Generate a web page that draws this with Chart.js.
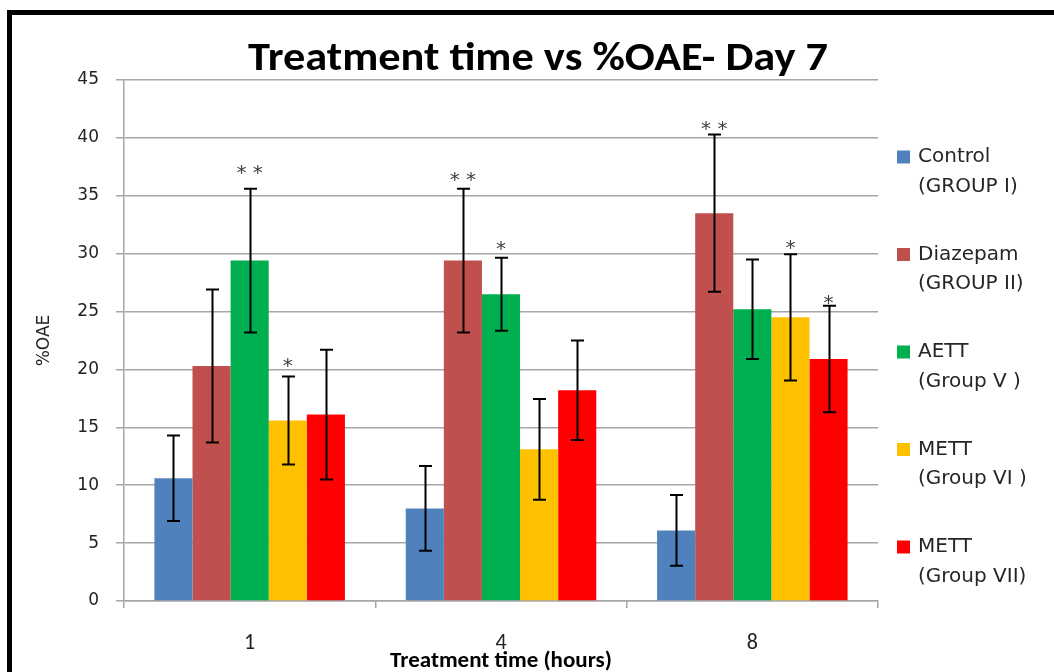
<!DOCTYPE html>
<html>
<head>
<meta charset="utf-8">
<script src="https://cdn.jsdelivr.net/npm/chart.js@4.4.1/dist/chart.umd.min.js"></script>
<style>
  html, body { margin: 0; padding: 0; background: #fff; }
  #wrap { width: 1054px; height: 672px; position: relative; }
</style>
</head>
<body>
<div id="wrap"><canvas id="c" width="1054" height="672"></canvas></div>
<script>
// ---- data ----
const chartTitle = 'Treatment time vs %OAE- Day 7';
const xTitle = 'Treatment time (hours)';
const yTitle = '%OAE';
const categories = ['1', '4', '8'];
const yTicks = [0, 5, 10, 15, 20, 25, 30, 35, 40, 45];

const seriesNames  = ['Control', 'Diazepam', 'AETT', 'METT', 'METT'];
const seriesGroups = ['(GROUP I)', '(GROUP II)', '(Group V )', '(Group VI )', '(Group VII)'];
const seriesColors = ['#4F81BD', '#C0504D', '#00B050', '#FFC000', '#FF0000'];

const controlVals  = [10.6, 8.0, 6.1];
const diazepamVals = [20.3, 29.4, 33.5];
const aettVals     = [29.4, 26.5, 25.2];
const mett6Vals    = [15.6, 13.1, 24.5];
const mett7Vals    = [16.1, 18.2, 20.9];

const controlErr  = [3.7, 3.65, 3.05];
const diazepamErr = [6.6, 6.2, 6.8];
const aettErr     = [6.2, 3.15, 4.3];
const mett6Err    = [3.8, 4.35, 5.45];
const mett7Err    = [5.6, 4.3, 4.6];

// significance marks and the value level at which each is written
const controlSig  = ['', '', ''];
const diazepamSig = ['', '* *', '* *'];
const aettSig     = ['* *', '*', ''];
const mett6Sig    = ['*', '', '*'];
const mett7Sig    = ['', '', '*'];
const controlSigY  = [null, null, null];
const diazepamSigY = [null, 36.8, 41.2];
const aettSigY     = [37.4, 30.8, null];
const mett6SigY    = [20.7, null, 30.9];
const mett7SigY    = [null, null, 26.2];

const allVals = [controlVals, diazepamVals, aettVals, mett6Vals, mett7Vals];
const allErr  = [controlErr, diazepamErr, aettErr, mett6Err, mett7Err];
const allSig  = [controlSig, diazepamSig, aettSig, mett6Sig, mett7Sig];
const allSigY = [controlSigY, diazepamSigY, aettSigY, mett6SigY, mett7SigY];

const datasets = allVals.map((v, i) => ({
  label: seriesNames[i] + ' ' + seriesGroups[i],
  data: v,
  backgroundColor: seriesColors[i],
  borderWidth: 0,
  categoryPercentage: 0.758,
  barPercentage: 1.0,
  errors: allErr[i],
  sig: allSig[i],
  sigY: allSigY[i]
}));

const frame = {
  id: 'frame',
  beforeDraw(chart) {
    const ctx = chart.ctx;
    ctx.save();
    ctx.fillStyle = '#fff';
    ctx.fillRect(0, 0, chart.width, chart.height);
    ctx.strokeStyle = '#000';
    ctx.lineWidth = 5;
    ctx.strokeRect(9.5, 12.5, 1200, 800);
    ctx.restore();
  },
  afterDraw(chart) {
    const ctx = chart.ctx;
    ctx.save();
    // title
    ctx.font = 'bold 40px Carlito, "Liberation Sans Narrow", "Liberation Sans", sans-serif';
    ctx.fillStyle = '#000';
    ctx.textBaseline = 'alphabetic';
    const w = ctx.measureText(chartTitle).width;
    const target = 580;
    ctx.translate(248, 70);
    ctx.scale(target / w, 1);
    ctx.fillText(chartTitle, 0, 0);
    ctx.restore();

    // legend
    ctx.save();
    ctx.font = '20px "DejaVu Sans", Verdana, sans-serif';
    ctx.textBaseline = 'middle';
    ctx.textAlign = 'left';
    chart.data.datasets.forEach((ds, i) => {
      const yc = 157 + i * 97.5;
      ctx.fillStyle = seriesColors[i];
      ctx.fillRect(897, yc - 6.5, 13, 13);
      ctx.fillStyle = '#262626';
      ctx.fillText(seriesNames[i], 918, yc);
      ctx.fillText(seriesGroups[i], 918, yc + 29.5);
    });
    ctx.restore();
  },
  afterDatasetsDraw(chart) {
    const ctx = chart.ctx;
    const ys = chart.scales.y;
    ctx.save();
    chart.data.datasets.forEach((ds, i) => {
      const meta = chart.getDatasetMeta(i);
      meta.data.forEach((bar, j) => {
        const v = ds.data[j], e = ds.errors[j];
        const x = Math.round(bar.x) + 0.5;
        const yT = ys.getPixelForValue(v + e);
        const yB = ys.getPixelForValue(v - e);
        ctx.strokeStyle = '#000';
        ctx.lineWidth = 2;
        ctx.beginPath();
        ctx.moveTo(x, yT); ctx.lineTo(x, yB);
        ctx.moveTo(x - 6.5, yT); ctx.lineTo(x + 6.5, yT);
        ctx.moveTo(x - 6.5, yB); ctx.lineTo(x + 6.5, yB);
        ctx.stroke();
        if (ds.sig[j]) {
          ctx.font = '20px "DejaVu Sans", sans-serif';
          ctx.fillStyle = '#404040';
          ctx.textAlign = 'center';
          ctx.textBaseline = 'alphabetic';
          ctx.fillText(ds.sig[j], bar.x, ys.getPixelForValue(ds.sigY[j]) + 11);
        }
      });
    });
    ctx.restore();
  }
};

new Chart(document.getElementById('c'), {
  type: 'bar',
  data: { labels: categories, datasets },
  plugins: [frame],
  options: {
    responsive: false,
    animation: false,
    devicePixelRatio: 1,
    layout: { padding: { top: 80, right: 176, left: 0, bottom: 0 } },
    plugins: { legend: { display: false }, title: { display: false }, tooltip: { enabled: false } },
    scales: {
      x: {
        grid: { display: true, drawOnChartArea: false, drawTicks: true, tickLength: 7, color: '#A6A6A6', lineWidth: 1.5, offset: true },
        border: { display: true, color: '#A6A6A6', width: 1.5 },
        ticks: { color: '#222', font: { family: 'Carlito, "Liberation Sans Narrow", "Liberation Sans", sans-serif', size: 22 }, padding: 22 },
        title: { display: true, text: xTitle, color: '#000', font: { family: 'Carlito, "Liberation Sans Narrow", "Liberation Sans", sans-serif', size: 23, weight: 'bold', lineHeight: 1 }, padding: { top: 0, bottom: -1 } },
        afterFit(s) { s.height = 71; }
      },
      y: {
        min: 0, max: 45,
        afterBuildTicks(s) { s.ticks = yTicks.map(v => ({ value: v })); },
        grid: { color: '#A6A6A6', lineWidth: 1.5, tickLength: 8 },
        border: { display: true, color: '#A6A6A6', width: 1.5 },
        ticks: { color: '#222', font: { family: '"DejaVu Sans", Verdana, sans-serif', size: 17 }, padding: 17 },
        title: { display: true, text: yTitle, color: '#222', font: { family: '"DejaVu Sans", Verdana, sans-serif', size: 17, lineHeight: 1.2 }, padding: { top: 34, bottom: 0 } },
        afterFit(s) { s.width = 124; }
      }
    }
  }
});
</script>
</body>
</html>
